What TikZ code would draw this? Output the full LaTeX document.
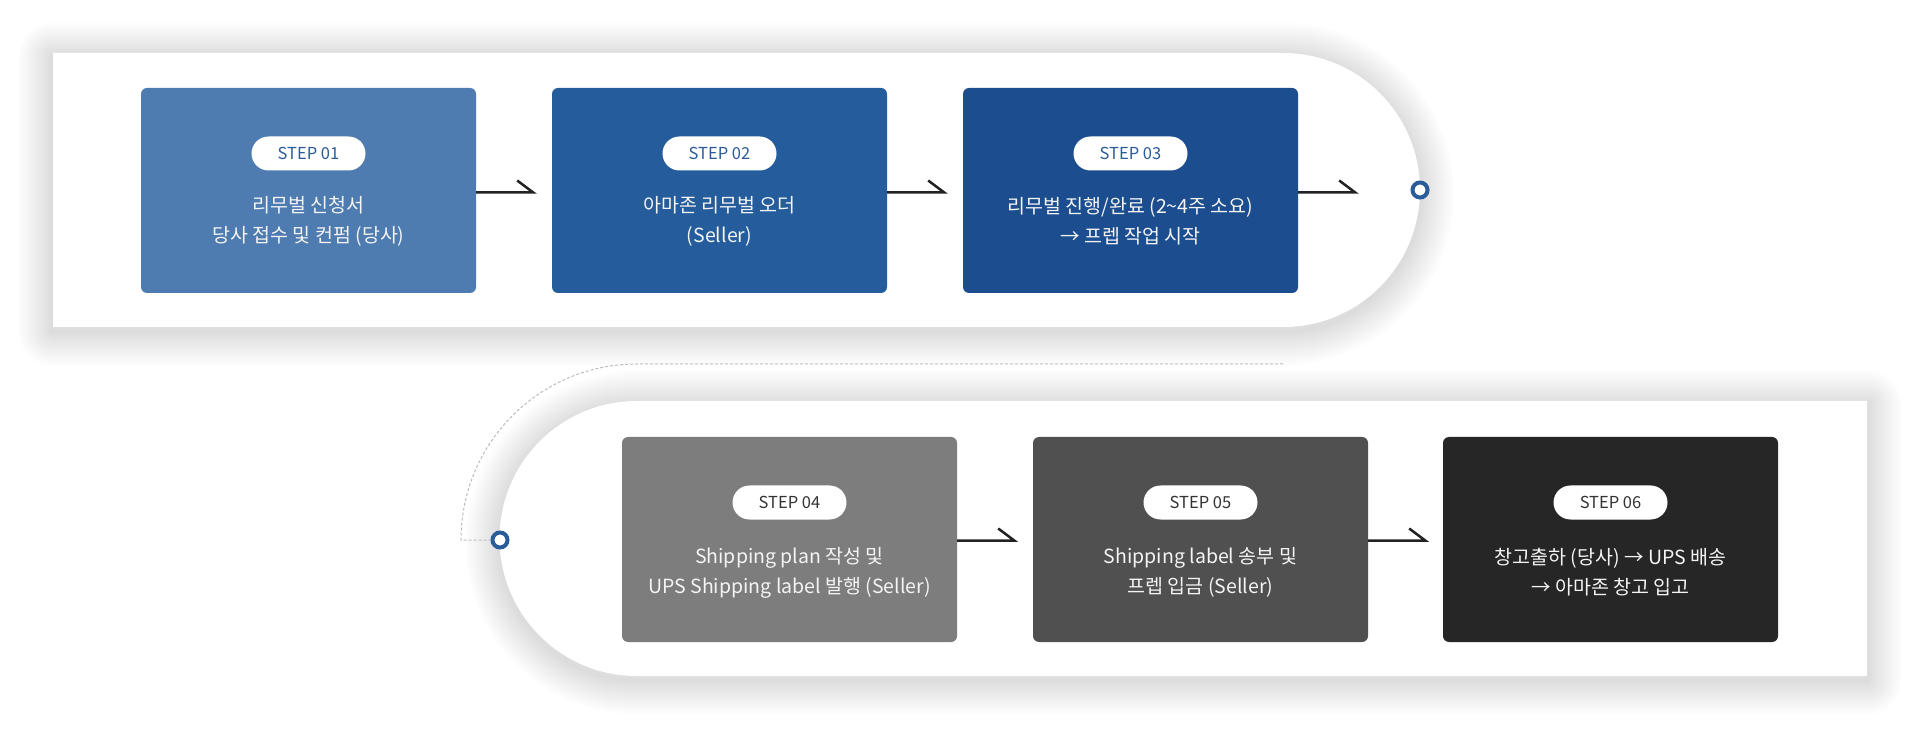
\documentclass[tikz,border=0pt]{standalone}
\usepackage{fontspec}
\setmainfont{Noto Sans CJK KR}
\usetikzlibrary{calc}
\definecolor{cA}{HTML}{4E7BB0}
\definecolor{cB}{HTML}{245C9C}
\definecolor{cC}{HTML}{1C4E8F}
\definecolor{cD}{HTML}{7D7D7D}
\definecolor{cE}{HTML}{505050}
\definecolor{cF}{HTML}{262626}
\definecolor{pillblue}{HTML}{2B5C99}
\definecolor{pillgray}{HTML}{333333}
\definecolor{arrowc}{HTML}{222222}
\definecolor{markc}{HTML}{2A5C9A}
\definecolor{dashc}{HTML}{BDBDBD}
\definecolor{textc}{HTML}{F4F4F4}
\begin{document}
\begin{tikzpicture}[x=1pt,y=1pt,
  stepbox/.style={rounded corners=6pt, minimum width=335pt, minimum height=205pt, inner sep=0pt, draw=none},
  pill/.style={fill=white, rounded corners=17pt, minimum width=114pt, minimum height=34pt, inner sep=0pt, font=\fontsize{16.5}{16.5}\selectfont},
  steptext/.style={text=textc, align=center, font=\fontsize{19.5}{30}\selectfont},
  link/.style={line width=2.5pt, draw=arrowc, line join=miter},
  marker/.style={circle, draw=markc, line width=4pt, fill=white, minimum size=15pt, inner sep=0pt},
  bandA/.style={insert path={(53,676) -- (1283,676) arc[start angle=90,end angle=-90,radius=137] -- (53,402) -- cycle}},
  bandB/.style={insert path={(1867,328) -- (637,328) arc[start angle=90,end angle=270,radius=137.5] -- (1867,53) -- cycle}}
]
\useasboundingbox (0,0) rectangle (1920,729);
\fill[white] (0,0) rectangle (1920,729);
% soft shadows
\foreach \w in {2,4,...,70}{
  \path[draw=black, draw opacity=0.0035, line width=\w pt, line join=round, yshift=-4pt, bandA];
  \path[draw=black, draw opacity=0.0035, line width=\w pt, line join=round, yshift=-4pt, bandB];
}
\path[fill=white, bandA];
\path[fill=white, bandB];

% dashed link between rows
\coordinate (dstart) at (1283,365);
\node[marker] (m2) at (500,189) {};
\draw[dashc, line width=1pt, dash pattern=on 3pt off 2pt] (dstart) -- (637,365) arc[start angle=90,end angle=180,radius=176] -- (m2.west);
\node[marker] (m1) at (1420,539) {};

% top row
\node[stepbox, fill=cA] (b1) at (308.5,538.5) {};
\node[stepbox, fill=cB] (b2) at (719.5,538.5) {};
\node[stepbox, fill=cC] (b3) at (1130.5,538.5) {};
\node[pill, text=pillblue] (p1) at ($(b1.center)+(0,37)$) {STEP 01};
\node[pill, text=pillblue] (p2) at ($(b2.center)+(0,37)$) {STEP 02};
\node[pill, text=pillblue] (p3) at ($(b3.center)+(0,37)$) {STEP 03};
\node[steptext] (t1) at ($(b1.center)+(0,-31)$) {리무벌 신청서\\당사 접수 및 컨펌 (당사)};
\node[steptext] (t2) at ($(b2.center)+(0,-31)$) {아마존 리무벌 오더\\(Seller)};
\node[steptext] (t3) at ($(b3.center)+(0,-31)$) {리무벌 진행/완료 (2\textasciitilde4주 소요)\\→ 프렙 작업 시작};

% bottom row
\node[stepbox, fill=cD] (b4) at (789.5,189.5) {};
\node[stepbox, fill=cE] (b5) at (1200.5,189.5) {};
\node[stepbox, fill=cF] (b6) at (1610.5,189.5) {};
\node[pill, text=pillgray] (p4) at ($(b4.center)+(0,37)$) {STEP 04};
\node[pill, text=pillgray] (p5) at ($(b5.center)+(0,37)$) {STEP 05};
\node[pill, text=pillgray] (p6) at ($(b6.center)+(0,37)$) {STEP 06};
\node[steptext] (t4) at ($(b4.center)+(0,-33)$) {Shipping plan 작성 및\\UPS Shipping label 발행 (Seller)};
\node[steptext] (t5) at ($(b5.center)+(0,-33)$) {Shipping label 송부 및\\프렙 입금 (Seller)};
\node[steptext] (t6) at ($(b6.center)+(0,-33)$) {창고출하 (당사) → UPS 배송\\→ 아마존 창고 입고};

% arrows
\draw[link] ($(b1.east)+(0,-2)$) -- ++(57,0) -- ++(-16,12);
\draw[link] ($(b2.east)+(0,-2)$) -- ++(57,0) -- ++(-16,12);
\draw[link] ($(b3.east)+(0,-2)$) -- ++(57,0) -- ++(-16,12);
\draw[link] ($(b4.east)+(0,-1)$) -- ++(57,0) -- ++(-16,12);
\draw[link] ($(b5.east)+(0,-1)$) -- ++(57,0) -- ++(-16,12);
\end{tikzpicture}
\end{document}
